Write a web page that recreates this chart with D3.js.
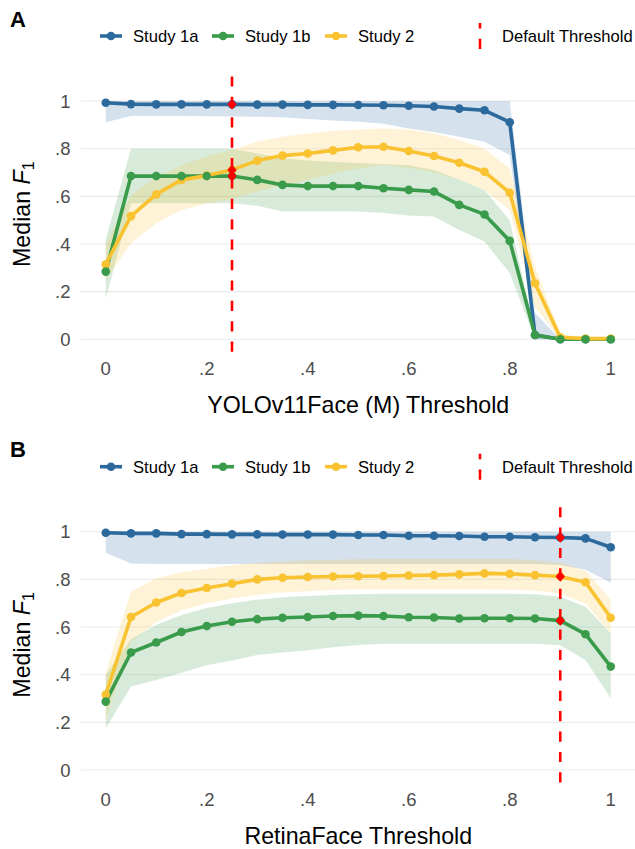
<!DOCTYPE html>
<html><head><meta charset="utf-8">
<script src="https://cdn.jsdelivr.net/npm/d3@7"></script>
<style>
body{margin:0;background:#fff}
svg{display:block}
text{font-family:"Liberation Sans",Arial,Helvetica,sans-serif}
</style>
</head><body>
<svg id="chart" width="635" height="849"></svg>
<script>
// ---------- data ----------
const thresholds = [0,0.05,0.1,0.15,0.2,0.25,0.3,0.35,0.4,0.45,0.5,0.55,0.6,0.65,0.7,0.75,0.8,0.85,0.9,0.95,1];
const tickValues = [0,0.2,0.4,0.6,0.8,1];
const tickLabels = ["0",".2",".4",".6",".8","1"];
const studies = ["Study 1a","Study 1b","Study 2"];
const studyColors = ["#2C6A9E","#3A9B4A","#F8C231"];

// Panel A: YOLOv11Face (M)
const yoloDefault = 0.25;
const yolo1a    = [0.993,0.987,0.986,0.986,0.986,0.986,0.985,0.985,0.984,0.984,0.983,0.982,0.980,0.977,0.968,0.961,0.911,0.018,0.0,0.0,0.0];
const yolo1aLo  = [0.911,0.937,0.937,0.937,0.936,0.935,0.934,0.932,0.925,0.918,0.913,0.905,0.885,0.870,0.850,0.829,0.773,0.0,0.0,0.0,0.0];
const yolo1aHi  = [1,1,1,1,1,1,1,1,1,1,1,1,1,1,1,1,1,0.11,0.0,0.0,0.0];
const yolo1b    = [0.284,0.685,0.685,0.685,0.685,0.685,0.669,0.648,0.643,0.643,0.643,0.634,0.627,0.620,0.564,0.524,0.413,0.018,0.0,0.0,0.0];
const yolo1bLo  = [0.17,0.571,0.571,0.571,0.571,0.571,0.56,0.536,0.536,0.536,0.536,0.53,0.52,0.515,0.459,0.41,0.278,0.0,0.0,0.0,0.0];
const yolo1bHi  = [0.42,0.80,0.80,0.80,0.80,0.80,0.78,0.76,0.75,0.745,0.74,0.735,0.73,0.71,0.67,0.627,0.50,0.03,0.0,0.0,0.0];
const yolo2     = [0.315,0.517,0.608,0.669,0.687,0.711,0.750,0.771,0.780,0.793,0.806,0.808,0.790,0.769,0.741,0.703,0.615,0.235,0.008,0.003,0.003];
const yolo2Lo   = [0.25,0.403,0.487,0.543,0.57,0.59,0.62,0.645,0.669,0.695,0.717,0.73,0.72,0.70,0.67,0.627,0.543,0.137,0.0,0.0,0.0];
const yolo2Hi   = [0.40,0.605,0.68,0.73,0.767,0.794,0.83,0.85,0.864,0.875,0.88,0.885,0.88,0.864,0.836,0.80,0.717,0.305,0.02,0.01,0.01];

// Panel B: RetinaFace
const retinaDefault = 0.9;
const retina1a   = [0.996,0.993,0.993,0.990,0.990,0.989,0.989,0.988,0.988,0.988,0.986,0.986,0.983,0.983,0.982,0.979,0.979,0.977,0.976,0.972,0.935];
const retina1aLo = [0.912,0.867,0.865,0.865,0.865,0.865,0.865,0.865,0.865,0.865,0.865,0.865,0.865,0.865,0.865,0.865,0.865,0.865,0.86,0.84,0.787];
const retina1aHi = [1,1,1,1,1,1,1,1,1,1,1,1,1,1,1,1,1,1,1,1,1];
const retina1b   = [0.287,0.493,0.535,0.579,0.604,0.622,0.633,0.639,0.642,0.646,0.648,0.646,0.641,0.640,0.636,0.637,0.637,0.636,0.627,0.570,0.434];
const retina1bLo = [0.175,0.35,0.378,0.408,0.44,0.46,0.483,0.493,0.503,0.515,0.525,0.53,0.53,0.53,0.53,0.53,0.53,0.53,0.524,0.461,0.301];
const retina1bHi = [0.40,0.55,0.61,0.65,0.68,0.70,0.715,0.725,0.73,0.735,0.738,0.74,0.74,0.74,0.74,0.74,0.74,0.738,0.727,0.685,0.573];
const retina2    = [0.317,0.642,0.703,0.743,0.764,0.782,0.800,0.807,0.810,0.812,0.813,0.814,0.816,0.818,0.821,0.825,0.823,0.818,0.812,0.788,0.639];
const retina2Lo  = [0.21,0.54,0.62,0.67,0.70,0.72,0.735,0.745,0.75,0.755,0.757,0.757,0.757,0.757,0.757,0.757,0.756,0.753,0.741,0.699,0.573];
const retina2Hi  = [0.41,0.748,0.805,0.83,0.845,0.86,0.868,0.875,0.88,0.882,0.884,0.885,0.886,0.887,0.887,0.887,0.885,0.88,0.87,0.836,0.716];

// ---------- drawing ----------
const svg = d3.select("#chart");
const X0 = 80.5, X1 = 636;
const x = d3.scaleLinear().domain([-0.05, 1.05]).range([X0, X1]);

function drawPanel(o){
  const y = d3.scaleLinear().domain([-0.0525, 1.1025]).range([o.bottom, o.top]);
  const g = svg.append("g");
  const series = [
    {name:studies[0], color:studyColors[0], v:o.s[0], lo:o.lo[0], hi:o.hi[0]},
    {name:studies[1], color:studyColors[1], v:o.s[1], lo:o.lo[1], hi:o.hi[1]},
    {name:studies[2], color:studyColors[2], v:o.s[2], lo:o.lo[2], hi:o.hi[2]}
  ];
  // grid
  g.selectAll("line.grid").data(tickValues).join("line")
    .attr("x1",X0).attr("x2",X1).attr("y1",d=>y(d)).attr("y2",d=>y(d))
    .attr("stroke","#EBEBEB").attr("stroke-width",1.1);
  // y tick labels
  g.selectAll("text.yt").data(tickValues).join("text")
    .attr("x",70.5).attr("y",d=>y(d)+6.6).attr("text-anchor","end")
    .attr("font-size",18.5).attr("fill","#4D4D4D").text((d,i)=>tickLabels[i]);
  // x tick labels
  g.selectAll("text.xt").data(tickValues).join("text")
    .attr("x",d=>x(d)).attr("y",o.bottom+23.2).attr("text-anchor","middle")
    .attr("font-size",18.5).attr("fill","#4D4D4D").text((d,i)=>tickLabels[i]);
  // ribbons
  const area = d3.area().x((d,i)=>x(thresholds[i])).y0(d=>y(d[0])).y1(d=>y(d[1]));
  series.forEach(s=>{
    g.append("path").datum(s.lo.map((l,i)=>[l,s.hi[i]])).attr("d",area)
      .attr("fill",s.color).attr("fill-opacity",0.2);
  });
  // lines
  const line = d3.line().x((d,i)=>x(thresholds[i])).y(d=>y(d));
  series.forEach(s=>{
    g.append("path").datum(s.v).attr("d",line).attr("fill","none")
      .attr("stroke",s.color).attr("stroke-width",3.6).attr("stroke-linejoin","round");
  });
  // points
  [0,2,1].forEach(k=>{
    const s = series[k];
    g.selectAll(null).data(s.v).join("circle")
      .attr("cx",(d,i)=>x(thresholds[i])).attr("cy",d=>y(d)).attr("r",4.3)
      .attr("fill",s.color);
  });
  // default threshold line (drawn from bottom upward)
  g.append("line").attr("x1",x(o.def)).attr("x2",x(o.def))
    .attr("y1",o.bottom).attr("y2",o.top)
    .attr("stroke","#FF0000").attr("stroke-width",2.6).attr("stroke-dasharray","10.2,10.2");
  // red diamonds at default threshold
  const di = thresholds.indexOf(o.def);
  g.selectAll(null).data(series).join("path")
    .attr("d",s=>{const cx=x(o.def), cy=y(s.v[di]), r=5.2;
      return `M${cx},${cy-r}L${cx+r*0.9},${cy}L${cx},${cy+r}L${cx-r*0.9},${cy}Z`;})
    .attr("fill","#FF0000");
  // axis titles
  g.append("text").attr("x",(X0+X1)/2).attr("y",o.bottom+61.5).attr("text-anchor","middle")
    .attr("font-size",23.2).attr("fill","#000").text(o.xTitle);
  const yt = g.append("text").attr("transform",`translate(30,${(o.top+o.bottom)/2}) rotate(-90)`)
    .attr("text-anchor","middle").attr("font-size",23.2).attr("fill","#000");
  yt.append("tspan").text("Median ");
  yt.append("tspan").attr("font-style","italic").text("F");
  yt.append("tspan").attr("font-size",16).attr("dy",4).text("1");
  // panel letter
  g.append("text").attr("x",10).attr("y",o.top-50).attr("font-size",22).attr("font-weight","bold").text(o.letter);
  // legend
  const ly = o.top-40.6;
  const keyX = [100,212,325], textX = [133,245,358];
  series.forEach((s,i)=>{
    g.append("line").attr("x1",keyX[i]).attr("x2",keyX[i]+22).attr("y1",ly).attr("y2",ly)
      .attr("stroke",s.color).attr("stroke-width",3.6);
    g.append("circle").attr("cx",keyX[i]+11).attr("cy",ly).attr("r",4.3).attr("fill",s.color);
    g.append("text").attr("x",textX[i]).attr("y",ly+6).attr("font-size",16.6).attr("fill","#000").text(s.name);
  });
  g.append("line").attr("x1",480).attr("x2",480).attr("y1",ly+13).attr("y2",ly-13)
    .attr("stroke","#FF0000").attr("stroke-width",2.6).attr("stroke-dasharray","10.2,10.2");
  g.append("text").attr("x",502).attr("y",ly+6).attr("font-size",16.6).attr("fill","#000").text("Default Threshold");
}

drawPanel({top:76.6, bottom:351.8, def:yoloDefault, letter:"A", xTitle:"YOLOv11Face (M) Threshold",
  s:[yolo1a,yolo1b,yolo2], lo:[yolo1aLo,yolo1bLo,yolo2Lo], hi:[yolo1aHi,yolo1bHi,yolo2Hi]});
drawPanel({top:507.3, bottom:782.5, def:retinaDefault, letter:"B", xTitle:"RetinaFace Threshold",
  s:[retina1a,retina1b,retina2], lo:[retina1aLo,retina1bLo,retina2Lo], hi:[retina1aHi,retina1bHi,retina2Hi]});
</script>
</body></html>
